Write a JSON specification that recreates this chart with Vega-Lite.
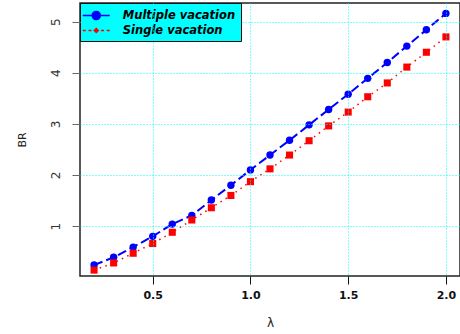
{
  "$schema": "https://vega.github.io/schema/vega-lite/v6.json",
  "width": 380,
  "height": 273,
  "autosize": {"type": "none"},
  "padding": {"left": 80, "top": 3, "right": 0, "bottom": 58},
  "background": "white",
  "data": {
    "values": [
      {"lambda": 0.2, "series": "Multiple vacation", "BR": 0.24},
      {"lambda": 0.3, "series": "Multiple vacation", "BR": 0.39},
      {"lambda": 0.4, "series": "Multiple vacation", "BR": 0.59},
      {"lambda": 0.5, "series": "Multiple vacation", "BR": 0.80},
      {"lambda": 0.6, "series": "Multiple vacation", "BR": 1.04},
      {"lambda": 0.7, "series": "Multiple vacation", "BR": 1.21},
      {"lambda": 0.8, "series": "Multiple vacation", "BR": 1.51},
      {"lambda": 0.9, "series": "Multiple vacation", "BR": 1.80},
      {"lambda": 1.0, "series": "Multiple vacation", "BR": 2.10},
      {"lambda": 1.1, "series": "Multiple vacation", "BR": 2.39},
      {"lambda": 1.2, "series": "Multiple vacation", "BR": 2.68},
      {"lambda": 1.3, "series": "Multiple vacation", "BR": 2.98},
      {"lambda": 1.4, "series": "Multiple vacation", "BR": 3.28},
      {"lambda": 1.5, "series": "Multiple vacation", "BR": 3.58},
      {"lambda": 1.6, "series": "Multiple vacation", "BR": 3.89},
      {"lambda": 1.7, "series": "Multiple vacation", "BR": 4.20},
      {"lambda": 1.8, "series": "Multiple vacation", "BR": 4.52},
      {"lambda": 1.9, "series": "Multiple vacation", "BR": 4.84},
      {"lambda": 2.0, "series": "Multiple vacation", "BR": 5.16},
      {"lambda": 0.2, "series": "Single vacation", "BR": 0.14},
      {"lambda": 0.3, "series": "Single vacation", "BR": 0.28},
      {"lambda": 0.4, "series": "Single vacation", "BR": 0.47},
      {"lambda": 0.5, "series": "Single vacation", "BR": 0.66},
      {"lambda": 0.6, "series": "Single vacation", "BR": 0.88},
      {"lambda": 0.7, "series": "Single vacation", "BR": 1.12},
      {"lambda": 0.8, "series": "Single vacation", "BR": 1.36},
      {"lambda": 0.9, "series": "Single vacation", "BR": 1.60},
      {"lambda": 1.0, "series": "Single vacation", "BR": 1.87},
      {"lambda": 1.1, "series": "Single vacation", "BR": 2.12},
      {"lambda": 1.2, "series": "Single vacation", "BR": 2.39},
      {"lambda": 1.3, "series": "Single vacation", "BR": 2.67},
      {"lambda": 1.4, "series": "Single vacation", "BR": 2.96},
      {"lambda": 1.5, "series": "Single vacation", "BR": 3.23},
      {"lambda": 1.6, "series": "Single vacation", "BR": 3.53},
      {"lambda": 1.7, "series": "Single vacation", "BR": 3.80},
      {"lambda": 1.8, "series": "Single vacation", "BR": 4.11},
      {"lambda": 1.9, "series": "Single vacation", "BR": 4.40},
      {"lambda": 2.0, "series": "Single vacation", "BR": 4.70}
    ]
  },
  "encoding": {
    "x": {
      "field": "lambda",
      "type": "quantitative",
      "scale": {"domain": [0.128, 2.072], "nice": false, "zero": false},
      "axis": {
        "title": "λ",
        "values": [0.5, 1, 1.5, 2],
        "format": ".1f",
        "zindex": 1,
        "domain": false,
        "tickColor": "#111",
        "tickSize": 8,
        "labelFont": "DejaVu Sans",
        "labelFontSize": 11,
        "labelFontWeight": "bold",
        "labelColor": "#111",
        "labelPadding": 5,
        "titleFont": "DejaVu Sans",
        "titleFontSize": 12,
        "titleFontWeight": "normal",
        "titleColor": "#222",
        "titlePadding": 17
      }
    },
    "y": {
      "field": "BR",
      "type": "quantitative",
      "scale": {"domain": [0.025, 5.363], "nice": false, "zero": false},
      "axis": {
        "title": "BR",
        "values": [1, 2, 3, 4, 5],
        "format": "d",
        "zindex": 1,
        "domain": false,
        "labelAngle": -90,
        "tickColor": "#666",
        "tickSize": 8,
        "labelFont": "DejaVu Sans",
        "labelFontSize": 12,
        "labelColor": "#333",
        "labelPadding": 10,
        "titleFont": "DejaVu Sans",
        "titleFontSize": 11,
        "titleFontWeight": "normal",
        "titleColor": "#222",
        "titlePadding": 22
      }
    }
  },
  "layer": [
    {
      "transform": [{"filter": "datum.series === 'Multiple vacation'"}],
      "mark": {"type": "line", "color": "#0000FF", "strokeWidth": 2, "strokeDash": [9, 4]}
    },
    {
      "transform": [{"filter": "datum.series === 'Single vacation'"}],
      "mark": {"type": "line", "color": "#FF0000", "strokeWidth": 1.5, "strokeDash": [1.5, 4.5]}
    },
    {
      "transform": [{"filter": "datum.series === 'Multiple vacation'"}],
      "mark": {"type": "point", "shape": "circle", "filled": true, "color": "#0000FF", "size": 55, "opacity": 1}
    },
    {
      "transform": [{"filter": "datum.series === 'Single vacation'"}],
      "mark": {"type": "point", "shape": "square", "filled": true, "color": "#FF0000", "size": 50, "opacity": 1}
    },
    {
      "transform": [{"filter": "datum.BR < 0"}],
      "mark": {"type": "point", "filled": true},
      "encoding": {
        "fill": {
          "field": "series",
          "type": "nominal",
          "scale": {"domain": ["Multiple vacation", "Single vacation"], "range": ["#0000FF", "#FF0000"]}
        },
        "stroke": {
          "field": "series",
          "type": "nominal",
          "scale": {"domain": ["Multiple vacation", "Single vacation"], "range": ["#0000FF", "#FF0000"]}
        },
        "shape": {
          "field": "series",
          "type": "nominal",
          "scale": {
            "domain": ["Multiple vacation", "Single vacation"],
            "range": [
              "M-2,0H2M-0.6,0A0.6,0.6,0,1,1,0.6,0A0.6,0.6,0,1,1,-0.6,0Z",
              "M-2,0H-1.55M-1.15,0H-0.7M0.7,0H1.15M1.55,0H2M-0.3,0L0,-0.3L0.3,0L0,0.3Z"
            ]
          }
        }
      }
    }
  ],
  "config": {
    "view": {"stroke": "#222", "strokeWidth": 1.5},
    "axis": {
      "grid": true,
      "gridColor": "#00FFFF",
      "gridDash": [1, 2],
      "gridWidth": 1,
      "gridOpacity": 1
    },
    "legend": {
      "orient": "top-left",
      "offset": 0,
      "title": null,
      "fillColor": "#00FFFF",
      "strokeColor": "#111",
      "padding": 5,
      "rowPadding": -1,
      "symbolSize": 182,
      "symbolStrokeWidth": 1.5,
      "symbolOpacity": 1,
      "symbolOffset": 3.75,
      "labelOffset": 19,
      "labelFont": "DejaVu Sans",
      "labelFontSize": 11.5,
      "labelFontWeight": "bold",
      "labelFontStyle": "italic",
      "labelColor": "#000"
    }
  }
}
